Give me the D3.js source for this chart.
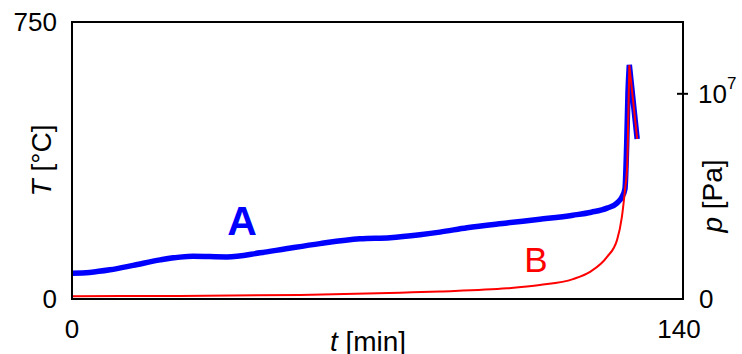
<!DOCTYPE html>
<html>
<head>
<meta charset="utf-8">
<script src="https://cdn.jsdelivr.net/npm/d3@7"></script>
<style>
  body { margin: 0; background: #fff; }
  text { font-family: "Liberation Sans", Arial, sans-serif; }
</style>
</head>
<body>
<div id="vis"></div>
<script>
// set constants
const FRAME_WIDTH = 742;
const FRAME_HEIGHT = 354;
const MARGINS = {left: 72, right: 59, top: 22, bottom: 55};
const VIS_WIDTH = FRAME_WIDTH - MARGINS.left - MARGINS.right;
const VIS_HEIGHT = FRAME_HEIGHT - MARGINS.top - MARGINS.bottom;

// data
// curve A: temperature [°C] vs time [min]
const timeA = [0, 4, 8.7, 14, 20.2, 27.7, 35.5, 43.1, 49, 56.8, 66, 72.9, 79.7, 84.3, 90.5, 99.7, 107.2, 114.8, 119, 122.6, 124.9, 126, 126.7, 127.1, 127.4, 127.7, 129.5];
const tempA = [70, 72, 79, 91, 106, 116, 114, 125, 136, 150, 163, 166, 174, 181, 193, 206, 216, 227, 235, 246, 260, 276, 298, 420, 560, 634, 433];
// curve B: pressure [Pa] vs time [min]
const timeB = [0, 24.7, 52.2, 75.2, 84.3, 99.7, 107.2, 114.8, 118.7, 122.6, 124.9, 126, 126.7, 127.2, 127.5, 127.7, 129.5];
const presB = [1.4e5, 1.5e5, 1.95e5, 3.1e5, 3.7e5, 5.2e5, 6.8e5, 9.7e5, 1.32e6, 2.05e6, 2.88e6, 4.0e6, 5.3e6, 6.44e6, 9.2e6, 1.14e7, 7.8e6];

const X_DOMAIN = [0, 140];
const T_DOMAIN = [0, 750];
const P_DOMAIN = [0, 1.35e7];
const P_TICKS = [1e7];

const FRAME = d3.select("#vis")
                .append("svg")
                  .attr("width", FRAME_WIDTH)
                  .attr("height", FRAME_HEIGHT);

const X_SCALE = d3.scaleLinear().domain(X_DOMAIN).range([0, VIS_WIDTH]);
const T_SCALE = d3.scaleLinear().domain(T_DOMAIN).range([VIS_HEIGHT, 0]);
const P_SCALE = d3.scaleLinear().domain(P_DOMAIN).range([VIS_HEIGHT, 0]);

const plot = FRAME.append("g")
                  .attr("transform", "translate(" + MARGINS.left + "," + MARGINS.top + ")");

// smooth up to the peak, straight drop after it
function spikePath(data, yScale) {
  const peak = d3.maxIndex(data, (d) => d.v);
  const smooth = d3.line()
                   .x((d) => X_SCALE(d.t))
                   .y((d) => yScale(d.v))
                   .curve(d3.curveMonotoneX);
  let p = smooth(data.slice(0, peak + 1));
  data.slice(peak + 1).forEach((d) => {
    p += "L" + X_SCALE(d.t) + "," + yScale(d.v);
  });
  return p;
}

const dataA = timeA.map((t, i) => ({t: t, v: tempA[i]}));
const dataB = timeB.map((t, i) => ({t: t, v: presB[i]}));

// blue line A (temperature, left axis)
plot.append("path")
    .attr("fill", "none")
    .attr("stroke", "#0000ff")
    .attr("stroke-width", 5.5)
    .attr("stroke-linejoin", "miter")
    .attr("d", spikePath(dataA, T_SCALE));

// red line B (pressure, right axis)
plot.append("path")
    .attr("fill", "none")
    .attr("stroke", "#ff0000")
    .attr("stroke-width", 2)
    .attr("stroke-linejoin", "miter")
    .attr("d", spikePath(dataB, P_SCALE));

// box frame
plot.append("rect")
    .attr("x", 0).attr("y", 0)
    .attr("width", VIS_WIDTH).attr("height", VIS_HEIGHT)
    .attr("fill", "none")
    .attr("stroke", "#000")
    .attr("stroke-width", 2);

// left axis: only end labels
plot.selectAll(".tlab")
    .data(T_DOMAIN)
    .enter()
    .append("text")
      .attr("x", -15)
      .attr("y", (d) => T_SCALE(d))
      .attr("dy", "0.35em")
      .attr("text-anchor", "end")
      .attr("font-size", "26px")
      .text((d) => d);

// bottom axis labels
plot.selectAll(".xlab")
    .data(X_DOMAIN)
    .enter()
    .append("text")
      .attr("x", (d) => X_SCALE(d) - (d === 140 ? 4 : 0))
      .attr("y", VIS_HEIGHT + 39)
      .attr("text-anchor", "middle")
      .attr("font-size", "26px")
      .text((d) => d);

// right axis: tick at 10^7 and 0
plot.selectAll(".ptick")
    .data(P_TICKS)
    .enter()
    .append("line")
      .attr("x1", VIS_WIDTH - 6).attr("x2", VIS_WIDTH + 5)
      .attr("y1", (d) => P_SCALE(d)).attr("y2", (d) => P_SCALE(d))
      .attr("stroke", "#000").attr("stroke-width", 2);

const pLab = plot.selectAll(".plab")
    .data(P_TICKS)
    .enter()
    .append("text")
      .attr("x", VIS_WIDTH + 15)
      .attr("y", (d) => P_SCALE(d) + 9)
      .attr("font-size", "26px");
pLab.append("tspan").text("10");
pLab.append("tspan").attr("dy", -14).attr("font-size", "17px").text("7");

plot.append("text")
    .attr("x", VIS_WIDTH + 16)
    .attr("y", P_SCALE(0))
    .attr("dy", "0.35em")
    .attr("font-size", "26px")
    .text("0");

// axis titles
const xTitle = FRAME.append("text")
    .attr("x", 368).attr("y", 351)
    .attr("text-anchor", "middle")
    .attr("font-size", "28px");
xTitle.append("tspan").attr("font-style", "italic").text("t");
xTitle.append("tspan").text(" [min]");

const yTitle = FRAME.append("text")
    .attr("transform", "translate(51," + (MARGINS.top + VIS_HEIGHT / 2) + ") rotate(-90)")
    .attr("text-anchor", "middle")
    .attr("font-size", "28px");
yTitle.append("tspan").attr("font-style", "italic").text("T");
yTitle.append("tspan").text(" [°C]");

const pTitle = FRAME.append("text")
    .attr("transform", "translate(722,196) rotate(-90)")
    .attr("text-anchor", "middle")
    .attr("font-size", "28px");
pTitle.append("tspan").attr("font-style", "italic").text("p");
pTitle.append("tspan").text(" [Pa]");

// curve labels
FRAME.append("text")
    .attr("x", 242).attr("y", 235)
    .attr("text-anchor", "middle")
    .attr("font-size", "41px")
    .attr("font-weight", "bold")
    .attr("fill", "#0000ff")
    .text("A");

FRAME.append("text")
    .attr("x", 536).attr("y", 272)
    .attr("text-anchor", "middle")
    .attr("font-size", "35px")
    .attr("fill", "#ff0000")
    .text("B");
</script>
</body>
</html>
